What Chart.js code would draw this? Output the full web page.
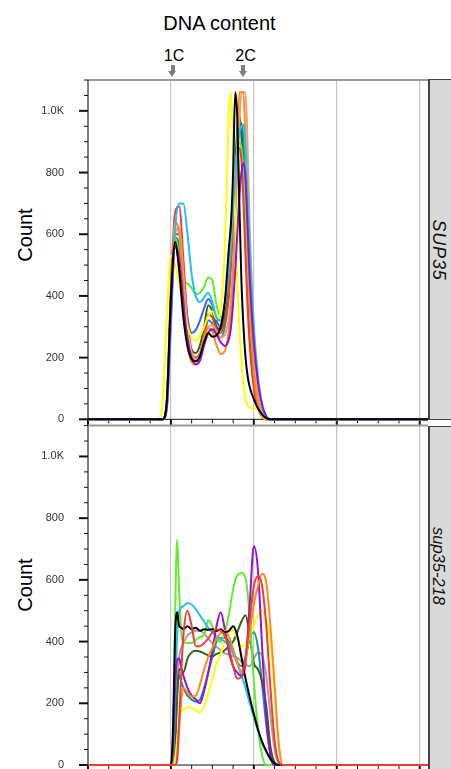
<!DOCTYPE html>
<html>
<head>
<meta charset="utf-8">
<script src="https://cdn.jsdelivr.net/npm/chart.js@4.4.1/dist/chart.umd.min.js"></script>
<style>
  body { margin: 0; background: #fff; font-family: "Liberation Sans", Arial, sans-serif; }
  #pagina { position: relative; width: 451px; height: 769px; overflow: hidden; background: #fff; }
  canvas { position: absolute; left: 0; }
  .texto { position: absolute; white-space: nowrap; line-height: 1; color: #000; }
  .centro { transform: translateX(-50%); }
  .girado { transform: translate(-50%, -50%) rotate(-90deg); }
  .faixa { position: absolute; left: 428px; width: 40px; background: #d9d9d9; box-sizing: border-box;
           border: 1px solid #444; border-left: 2px solid #444; }
  .rotulo-faixa { position: absolute; white-space: nowrap; line-height: 1; font-style: italic; color: #111;
                  transform: translate(-50%, -50%) rotate(90deg); }
  .haste { position: absolute; width: 4px; height: 6px; background: #808080; }
  .ponta { position: absolute; width: 0; height: 0; border-left: 4.5px solid transparent;
           border-right: 4.5px solid transparent; border-top: 6px solid #808080; }
</style>
</head>
<body>
<div id="pagina">
  <div class="texto centro" style="left:219.5px; top:13px; font-size:20px;">DNA content</div>
  <div class="texto centro" style="left:174px; top:48px; font-size:16px;">1C</div>
  <div class="texto centro" style="left:245.5px; top:48px; font-size:16px;">2C</div>
  <div class="haste" style="left:170.5px; top:65px;"></div>
  <div class="ponta" style="left:168px; top:71px;"></div>
  <div class="haste" style="left:241px; top:65px;"></div>
  <div class="ponta" style="left:238.5px; top:71px;"></div>

  <div class="texto girado" style="left:25px; top:235px; font-size:20px;">Count</div>
  <div class="texto girado" style="left:25px; top:585px; font-size:20px;">Count</div>

  <div class="faixa" style="top:79px; height:341px;"></div>
  <div class="faixa" style="top:425.5px; height:360px;"></div>
  <div class="rotulo-faixa" style="left:439px; top:250px; font-size:18px; letter-spacing:0.8px;">SUP35</div>
  <div class="rotulo-faixa" style="left:439px; top:566px; font-size:16.5px;">sup35-218</div>

  <canvas id="graficoTopo" width="428" height="360" style="top:70px;"></canvas>
  <canvas id="graficoBase" width="428" height="360" style="top:416px;"></canvas>
</div>

<script>
// DNA content grid (1 unit = one major tick) and counts per strain
const xTopo = [0.85, 0.9, 0.95, 1.0, 1.05, 1.1, 1.15, 1.2, 1.25, 1.3, 1.35, 1.4, 1.45, 1.5, 1.55, 1.6, 1.65, 1.7,
               1.725, 1.75, 1.775, 1.8, 1.825, 1.85, 1.875, 1.9, 1.925, 1.95, 2.0, 2.05, 2.1, 2.15, 2.2, 2.25];
const xBase = [0.85, 0.9, 0.95, 0.975, 1.0, 1.025, 1.05, 1.075, 1.1, 1.125, 1.15, 1.2, 1.25, 1.3, 1.35, 1.4, 1.45,
               1.5, 1.55, 1.6, 1.65, 1.7, 1.75, 1.8, 1.85, 1.9, 1.95, 2.0, 2.05, 2.1, 2.15, 2.2, 2.25, 2.3, 2.35];

// SUP35
const topoPreto   = [0,0,60,400,575, 480,330,235,195,188, 205,250,280,268,272, 300,380,560,640,800, 1060,980,700,450,300, 200,140,105,65,35, 15,3,0,0];
const topoRoxo    = [0,0,40,350,560, 520,380,260,200,178, 190,240,280,292,275, 250,238,260,300,380, 480,600,720,800,830, 780,620,460,250,120, 45,10,0,0];
const topoCiano   = [0,0,30,300,610, 700,700,600,470,400, 380,395,410,380,330, 320,370,480,570,680, 790,880,930,950,955, 880,720,560,300,140, 50,10,0,0];
const topoAmarelo = [0,60,330,530,500, 440,370,300,265,255, 270,300,335,350,325, 360,560,1000,1060,880, 650,450,300,190,110, 65,45,38,35,30, 12,0,0,0];
const topoLaranja = [0,0,50,380,640, 600,420,260,185,178, 205,265,295,285,240, 212,222,290,360,480, 680,900,1060,1060,1060, 880,600,380,150,50, 10,0,0,0];
const topoSalmao  = [0,0,40,330,600, 620,470,300,215,195, 210,260,300,305,285, 265,275,330,400,500, 640,800,960,1060,1060, 1060,880,620,260,80, 15,0,0,0];
const topoVermelho = [0,0,60,430,670, 690,520,320,220,200, 215,270,340,330,290, 280,320,420,520,640, 780,860,880,840,700, 520,360,240,100,35, 8,0,0,0];
const topoVerde   = [0,0,50,380,590, 520,450,440,425,405, 410,430,460,450,370, 330,380,500,600,700, 800,870,900,880,800, 650,480,340,170,70, 20,0,0,0];
const topoOliva   = [0,0,50,380,560, 500,370,270,225,215, 240,300,370,350,300, 290,340,460,560,680, 820,940,990,920,780, 600,430,300,140,55, 15,0,0,0];
const topoPetroleo = [0,0,45,360,590, 560,420,280,210,195, 210,260,320,310,275, 265,300,400,500,620, 760,880,940,955,880, 700,520,360,170,65, 18,0,0,0];
const topoAzul    = [0,0,40,340,600, 600,460,330,280,290, 320,360,390,370,320, 300,340,440,540,660, 800,900,950,960,900, 740,560,400,190,70, 20,0,0,0];

// sup35-218
const baseVermelho = [0,0,0,0,0, 0,0,20,150,300, 420,500,450,385,385, 395,410,430,440,435, 420,380,320,280,285, 350,470,580,612,580, 450,250,80,10,0];
const basePreto    = [0,0,0,0,0, 120,420,495,450,445, 440,450,440,445,435, 440,438,440,435,440, 430,435,450,420,350, 280,220,165,115,75, 45,20,5,0,0];
const baseLaranja  = [0,0,0,0,0, 0,0,20,120,210, 250,235,222,225,260, 310,350,380,410,428, 437,415,375,330,305, 340,430,520,580,620, 590,450,260,70,0];
const baseRoxo     = [0,0,0,0,0, 50,250,340,345,315, 290,250,225,212,200, 240,300,370,450,495, 440,365,320,300,288, 330,520,710,630,380, 150,30,0,0,0];
const baseCiano    = [0,0,0,0,0, 30,200,420,500,510, 515,525,520,505,485, 465,445,430,415,408, 400,390,360,330,290, 250,200,155,110,72, 42,18,3,0,0];
const baseVerde    = [0,0,0,0,0, 40,480,730,560,430, 400,395,395,405,415, 420,470,450,410,400, 430,490,570,615,622, 605,480,270,120,30, 0,0,0,0,0];
const baseAmarelo  = [0,0,0,0,0, 0,20,80,140,175, 180,188,185,178,170, 190,230,280,330,360, 400,430,437,410,385, 390,410,455,485,500, 470,400,230,60,0];
const baseOliva    = [0,0,0,0,0, 0,60,220,310,310, 300,345,365,370,368, 362,355,352,360,365, 372,385,400,430,465, 485,420,330,310,270, 190,60,8,0,0];
const basePetroleo = [0,0,0,0,0, 0,80,240,290,270, 250,225,212,205,212, 250,300,350,400,412, 412,400,370,335,320, 350,410,430,380,260, 130,40,5,0,0];
const baseRosado   = [0,0,0,0,0, 0,100,260,350,380, 395,420,430,435,437, 425,410,395,383,372, 362,358,352,348,335, 325,320,345,365,355, 290,160,50,5,0];

const yMax = 1100;
const xMax = 4.1;

const cores = {
    preto: '#000000', roxo: '#9412d2', ciano: '#1fc2f2', amarelo: '#ffff00', laranja: '#ff8a1c',
    salmao: '#e9a172', vermelho: '#f23a3a', verde: '#62ec30', oliva: '#2f6614', petroleo: '#14999b',
    azul: '#3a62e8', rosado: '#b9999b'
};

// first entry is drawn on top
const seriesTopo = [
    [topoPreto, cores.preto], [topoRoxo, cores.roxo], [topoCiano, cores.ciano], [topoAmarelo, cores.amarelo],
    [topoLaranja, cores.laranja], [topoSalmao, cores.salmao], [topoVermelho, cores.vermelho], [topoVerde, cores.verde],
    [topoOliva, cores.oliva], [topoPetroleo, cores.petroleo], [topoAzul, cores.azul]
];
const seriesBase = [
    [baseVermelho, cores.vermelho], [basePreto, cores.preto], [baseLaranja, cores.laranja], [baseRoxo, cores.roxo],
    [baseCiano, cores.ciano], [baseVerde, cores.verde], [baseAmarelo, cores.amarelo], [baseOliva, cores.oliva],
    [basePetroleo, cores.petroleo], [baseRosado, cores.rosado]
];

function linha(ctx, x1, y1, x2, y2) {
    ctx.beginPath();
    ctx.moveTo(x1, y1);
    ctx.lineTo(x2, y2);
    ctx.stroke();
}

const marcasEixos = {
    id: 'marcasEixos',
    beforeDatasetsDraw(chart) {
        const { ctx, chartArea: a, scales: { x, y } } = chart;
        ctx.save();
        ctx.strokeStyle = '#9a9a9a';
        ctx.lineWidth = 2;
        linha(ctx, a.left, a.top, a.right, a.top);

        ctx.strokeStyle = '#555';
        ctx.lineWidth = 1.5;
        linha(ctx, a.left, a.top, a.left, a.bottom);

        ctx.strokeStyle = '#111';
        y.ticks.forEach(t => {
            const py = y.getPixelForValue(t.value);
            const maior = t.value % 200 === 0;
            ctx.lineWidth = maior ? 2 : 1;
            linha(ctx, a.left - (maior ? 9 : 4), py, a.left, py);
        });

        ctx.lineWidth = 1;
        linha(ctx, a.left, a.bottom, a.right, a.bottom);
        x.ticks.forEach(t => {
            const px = x.getPixelForValue(t.value);
            const maior = Number.isInteger(t.value);
            ctx.lineWidth = maior ? 2 : 1;
            linha(ctx, px, a.bottom, px, a.bottom + (maior ? 6 : 4));
        });
        ctx.restore();
    }
};

function criarGrafico(idCanvas, xs, series, folgaTopo, alturaEixoX) {
    const datasets = series.map(([valores, cor]) => ({
        data: [{ x: 0, y: 0 }, ...xs.map((x, i) => ({ x: x, y: valores[i] })), { x: xMax, y: 0 }],
        borderColor: cor,
        borderWidth: 2,
        pointRadius: 0,
        fill: false,
        cubicInterpolationMode: 'monotone',
        clip: false
    }));

    return new Chart(document.getElementById(idCanvas), {
        type: 'line',
        data: { datasets: datasets },
        options: {
            responsive: false,
            animation: false,
            devicePixelRatio: 1,
            layout: { padding: { top: folgaTopo, left: 0, right: 0, bottom: 0 } },
            plugins: { legend: { display: false }, tooltip: { enabled: false } },
            scales: {
                x: {
                    type: 'linear',
                    min: 0,
                    max: xMax,
                    ticks: { display: false, stepSize: 0.25, includeBounds: false, autoSkip: false },
                    grid: {
                        drawTicks: false,
                        lineWidth: 1.2,
                        color: c => (c.tick && Number.isInteger(c.tick.value) && c.tick.value > 0) ? '#c6c6c6' : 'rgba(0,0,0,0)'
                    },
                    border: { display: false },
                    afterFit: s => { s.height = alturaEixoX; }
                },
                y: {
                    min: 0,
                    max: yMax,
                    ticks: {
                        stepSize: 50,
                        autoSkip: false,
                        padding: 16,
                        color: '#333',
                        font: { family: 'Liberation Sans', size: 11 },
                        callback: v => v % 200 === 0 ? (v === 1000 ? '1.0K' : String(v)) : ''
                    },
                    grid: { display: false },
                    border: { display: false },
                    afterFit: s => {
                        s.width = 88;
                        s.paddingTop = 0;
                        s.paddingBottom = 0;
                    }
                }
            }
        },
        plugins: [marcasEixos]
    });
}

criarGrafico('graficoTopo', xTopo, seriesTopo, 10, 10.7);
criarGrafico('graficoBase', xBase, seriesBase, 9.6, 11);
</script>
</body>
</html>
